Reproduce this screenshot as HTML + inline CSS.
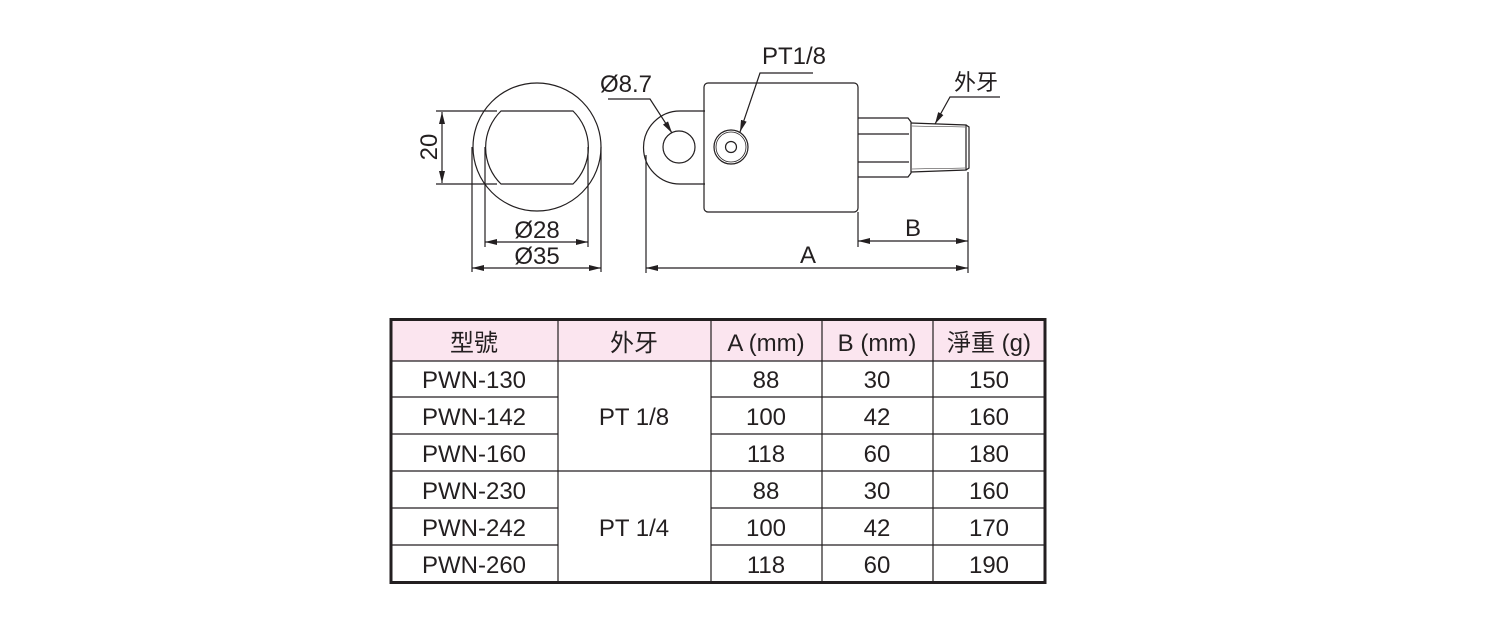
<!DOCTYPE html>
<html><head><meta charset="utf-8"><style>
html,body{margin:0;padding:0;background:#fff;}
svg{display:block;}
text{font-family:"Liberation Sans","Noto Sans CJK TC",sans-serif;fill:#231f20;}
</style></head><body>
<svg width="1500" height="630" viewBox="0 0 1500 630" xmlns="http://www.w3.org/2000/svg">
<defs>
<marker id="ar" viewBox="0 0 12 6" refX="12" refY="3" markerWidth="12" markerHeight="6" markerUnits="userSpaceOnUse" orient="auto-start-reverse"><path d="M0,0 L12,3 L0,6 z" fill="#231f20"/></marker>
</defs>
<g stroke="#231f20" stroke-width="1.2" fill="none">
<circle cx="537" cy="147" r="64"/>
<path d="M501,111 L573,111 A51,51 0 0 1 573,184 L501,184 A51,51 0 0 1 501,111 Z"/>
<line x1="436" y1="111" x2="497" y2="111"/>
<line x1="436" y1="184" x2="497" y2="184"/>
<line x1="442" y1="112" x2="442" y2="183" marker-start="url(#ar)" marker-end="url(#ar)"/>
<line x1="485" y1="147" x2="485" y2="247"/>
<line x1="588" y1="147" x2="588" y2="247"/>
<line x1="472" y1="147" x2="472" y2="272"/>
<line x1="601" y1="147" x2="601" y2="272"/>
<line x1="485" y1="242" x2="588" y2="242" marker-start="url(#ar)" marker-end="url(#ar)"/>
<line x1="472" y1="268" x2="601" y2="268" marker-start="url(#ar)" marker-end="url(#ar)"/>
<path d="M705,111 L680,111 A36,36 0 0 0 680,184 L705,184"/>
<circle cx="679" cy="147" r="16"/>
<rect x="704" y="83" width="154" height="129" rx="4"/>
<circle cx="731" cy="147" r="17"/>
<circle cx="731" cy="147" r="15" stroke-width="0.8"/>
<circle cx="731" cy="147" r="5.5"/>
<path d="M858,118 L908,118 L911,122 L911,173 L908,177 L858,177"/>
<line x1="858" y1="134" x2="909" y2="134"/>
<line x1="858" y1="162" x2="909" y2="162"/>
<path d="M911,123 L966,125 L966,170 L911,172"/>
<path d="M966,125 L969,127 L969,168 L966,170"/>
<line x1="912" y1="126" x2="965" y2="127" stroke-width="0.6"/>
<line x1="912" y1="169" x2="965" y2="168" stroke-width="0.6"/>
<line x1="646" y1="155" x2="646" y2="273"/>
<line x1="858" y1="212" x2="858" y2="247"/>
<line x1="968" y1="172" x2="968" y2="273"/>
<line x1="858" y1="241" x2="968" y2="241" marker-start="url(#ar)" marker-end="url(#ar)"/>
<line x1="646" y1="268" x2="968" y2="268" marker-start="url(#ar)" marker-end="url(#ar)"/>
<polyline points="608,99 650,99 672,133" marker-end="url(#ar)"/>
<polyline points="813,73 760,73 740,132" marker-end="url(#ar)"/>
<polyline points="1000,97 950,97 935,124" marker-end="url(#ar)"/>
</g>
<g font-size="24">
<text x="600" y="92">Ø8.7</text>
<text x="762" y="64">PT1/8</text>
<text x="954" y="90" font-size="22">外牙</text>
<text x="537" y="238" text-anchor="middle">Ø28</text>
<text x="537" y="264" text-anchor="middle">Ø35</text>
<text x="913" y="236" text-anchor="middle">B</text>
<text x="808" y="263" text-anchor="middle">A</text>
<text transform="translate(437,147) rotate(-90)" text-anchor="middle">20</text>
</g>
<rect x="391" y="320" width="654" height="41" fill="#fbe5ef"/>
<g stroke="#231f20" stroke-width="1.2">
<line x1="391" y1="361" x2="1045" y2="361"/>
<line x1="391" y1="397" x2="558" y2="397"/><line x1="711" y1="397" x2="1045" y2="397"/>
<line x1="391" y1="434" x2="558" y2="434"/><line x1="711" y1="434" x2="1045" y2="434"/>
<line x1="391" y1="471" x2="1045" y2="471"/>
<line x1="391" y1="508" x2="558" y2="508"/><line x1="711" y1="508" x2="1045" y2="508"/>
<line x1="391" y1="545" x2="558" y2="545"/><line x1="711" y1="545" x2="1045" y2="545"/>
<line x1="558" y1="320" x2="558" y2="582"/>
<line x1="711" y1="320" x2="711" y2="582"/>
<line x1="822" y1="320" x2="822" y2="582"/>
<line x1="933" y1="320" x2="933" y2="582"/>
</g>
<rect x="391" y="319.5" width="654" height="263" fill="none" stroke="#231f20" stroke-width="3"/>
<g font-size="24" text-anchor="middle">
<text x="474" y="351">型號</text><text x="634" y="351">外牙</text>
<text x="766" y="351">A (mm)</text><text x="877" y="351">B (mm)</text><text x="989" y="351">淨重 (g)</text>
<text x="474" y="388">PWN-130</text><text x="474" y="425">PWN-142</text><text x="474" y="462">PWN-160</text>
<text x="474" y="499">PWN-230</text><text x="474" y="536">PWN-242</text><text x="474" y="573">PWN-260</text>
<text x="634" y="425">PT 1/8</text><text x="634" y="536">PT 1/4</text>
<text x="766" y="388">88</text><text x="766" y="425">100</text><text x="766" y="462">118</text>
<text x="766" y="499">88</text><text x="766" y="536">100</text><text x="766" y="573">118</text>
<text x="877" y="388">30</text><text x="877" y="425">42</text><text x="877" y="462">60</text>
<text x="877" y="499">30</text><text x="877" y="536">42</text><text x="877" y="573">60</text>
<text x="989" y="388">150</text><text x="989" y="425">160</text><text x="989" y="462">180</text>
<text x="989" y="499">160</text><text x="989" y="536">170</text><text x="989" y="573">190</text>
</g>
</svg>
</body></html>
